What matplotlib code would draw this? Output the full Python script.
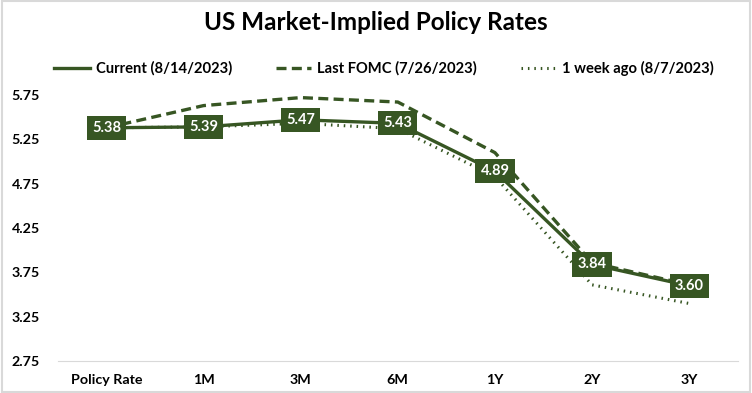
import matplotlib.pyplot as plt
import numpy as np

categories = ["Policy Rate", "1M", "3M", "6M", "1Y", "2Y", "3Y"]
current = [5.38, 5.39, 5.47, 5.43, 4.89, 3.84, 3.60]
last_fomc = [5.38, 5.63, 5.72, 5.67, 5.10, 3.86, 3.61]
week_ago = [5.38, 5.39, 5.43, 5.37, 4.83, 3.61, 3.40]
yticks = [2.75, 3.25, 3.75, 4.25, 4.75, 5.25, 5.75]

green = "#375623"
plt.rcParams["font.family"] = ["Lato", "DejaVu Sans"]
plt.rcParams["font.weight"] = "bold"

fig = plt.figure(figsize=(7.52, 3.93), dpi=100)
ax = fig.add_axes([0.077, 0.081, 0.904, 0.700])
x = np.arange(len(categories))

ax.plot(x, week_ago, color=green, lw=2.2, ls=(0, (0.5, 1.6)), label="1 week ago (8/7/2023)", zorder=2)
ax.plot(x, last_fomc, color=green, lw=2.4, ls=(0, (3, 1.6)), label="Last FOMC (7/26/2023)", zorder=2)
ax.plot(x, current, color=green, lw=2.4, label="Current (8/14/2023)", zorder=3)

for xi, v in zip(x, current):
    ax.text(xi, v, f"{v:.2f}", ha="center", va="center", color="white", fontsize=10.5,
            fontweight="bold", zorder=5,
            bbox=dict(boxstyle="square,pad=0.35", fc=green, ec="none"))

ax.set_xlim(-0.5, len(categories) - 0.5)
ax.set_ylim(2.75, 5.85)
ax.set_yticks(yticks)
ax.set_yticklabels([f"{t:.2f}" for t in yticks])
ax.set_xticks(x)
ax.set_xticklabels(categories)
ax.tick_params(length=0, labelsize=10.3, colors="black")
ax.tick_params(axis="y", pad=13)
ax.tick_params(axis="x", pad=9)
for s in ["top", "right", "left"]:
    ax.spines[s].set_visible(False)
ax.spines["bottom"].set_color("#d9d9d9")

handles, labels = ax.get_legend_handles_labels()
order = [2, 1, 0]
fig.legend([handles[i] for i in order], [labels[i] for i in order],
           loc="center", bbox_to_anchor=(0.511, 0.826), ncol=3, frameon=False,
           fontsize=10.6, handlelength=2.4, columnspacing=3.0, handletextpad=0.4)

fig.text(0.5, 0.944, "US Market-Implied Policy Rates", ha="center", va="center",
         fontsize=17.5, fontweight="bold")

fig.patches.append(plt.Rectangle((0.002, 0.003), 0.996, 0.994, transform=fig.transFigure,
                                 fill=False, ec="#d9d9d9", lw=1.5))

fig.savefig("out.png", dpi=100)
